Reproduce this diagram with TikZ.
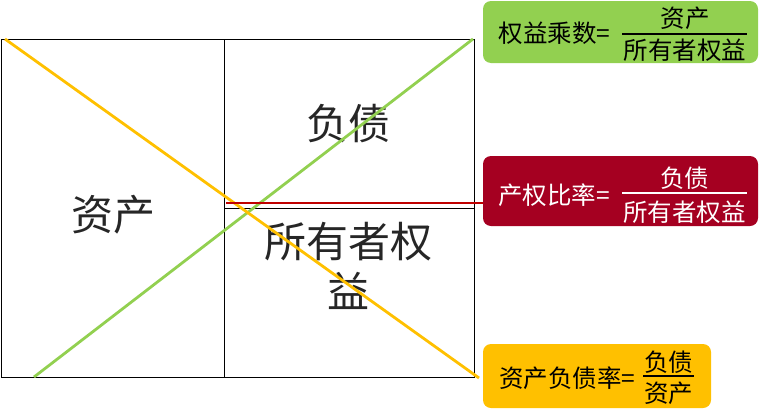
\documentclass[tikz,border=0pt]{standalone}
\usepackage{fontspec}
\setmainfont{Noto Sans CJK SC}
\definecolor{gboxc}{HTML}{92D050}
\definecolor{rboxc}{HTML}{A50021}
\definecolor{oboxc}{HTML}{FFC000}
\definecolor{redl}{HTML}{C00000}
\definecolor{txtc}{HTML}{262626}
\begin{document}
\begin{tikzpicture}[x=1pt,y=-1pt,
  bigtxt/.style={inner sep=0pt,text=txtc,font=\fontsize{42}{50}\selectfont},
  lbltxt/.style={inner sep=0pt,font=\fontsize{24.5}{28}\selectfont},
  framel/.style={line width=1pt,black},
  diag/.style={line width=2.8pt},
  fracbar/.style={line width=1.2pt}]
\useasboundingbox (0,0) rectangle (762,410);
% frame
\coordinate (tl) at (1,39);
\coordinate (tr) at (474,39);
\coordinate (bl) at (1,377);
\coordinate (br) at (474,377);
\coordinate (mt) at (224.5,39);
\coordinate (mb) at (224.5,377);
\coordinate (ml) at (224.5,208.5);
\coordinate (mr) at (474,208.5);
\draw[framel] (tl) rectangle (br);
\draw[framel] (mt) -- (mb);
\draw[framel] (ml) -- (mr);
% big texts
\node[bigtxt] (zc) at (113,215) {资产};
\node[bigtxt] (fz) at (348,124) {负债};
\node[bigtxt] (sy1) at (348,242) {所有者权};
\node[bigtxt] (sy2) at (348,291) {益};
% boxes
\fill[gboxc,rounded corners=8pt] (483,1) rectangle (758,63);
\coordinate (gboxw) at (483,32);
\fill[rboxc,rounded corners=8pt] (483,156) rectangle (758,226);
\coordinate (rboxw) at (483,191);
\fill[oboxc,rounded corners=8pt] (483,344) rectangle (711,408);
% diagonals
\coordinate (gs) at (34,377);
\coordinate (ge) at (473,39);
\coordinate (os) at (5,39);
\coordinate (oe) at (479,378);
\draw[diag,gboxc] (gs) -- (ge);
\draw[diag,oboxc] (os) -- (oe);
\coordinate (rs) at (226,203);
\draw[diag,redl] (rs) -- (rs -| rboxw);
% green label
\node[lbltxt,text=black] (g1) at (554.5,33) {权益乘数=};
\node[lbltxt,text=black] (g2) at (685,18) {资产};
\node[lbltxt,text=black] (g3) at (685,50) {所有者权益};
\coordinate (gb1) at (622,34);
\coordinate (gb2) at (747,34);
\draw[fracbar,black] (gb1) -- (gb2);
% red label
\node[lbltxt,text=white] (r1) at (554,195) {产权比率=};
\node[lbltxt,text=white] (r2) at (684.5,178) {负债};
\node[lbltxt,text=white] (r3) at (684.5,212) {所有者权益};
\coordinate (rb1) at (622,193);
\coordinate (rb2) at (747,193);
\draw[fracbar,white] (rb1) -- (rb2);
% orange label
\node[lbltxt,text=black] (o1) at (567.5,378) {资产负债率=};
\node[lbltxt,text=black] (o2) at (668.5,362) {负债};
\node[lbltxt,text=black] (o3) at (668.5,393) {资产};
\coordinate (ob1) at (643,376);
\coordinate (ob2) at (694,376);
\draw[fracbar,black] (ob1) -- (ob2);
\end{tikzpicture}
\end{document}
